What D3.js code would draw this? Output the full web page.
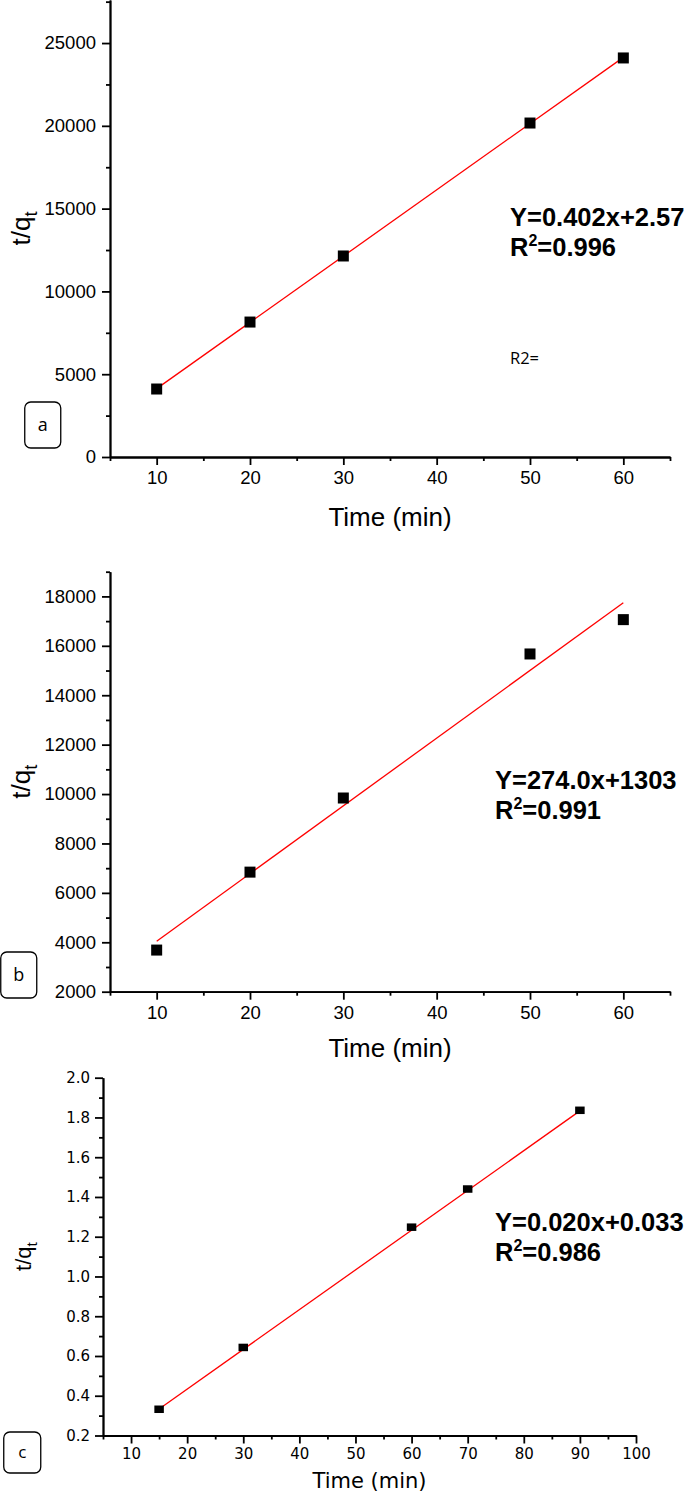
<!DOCTYPE html>
<html>
<head>
<meta charset="utf-8">
<script src="https://cdn.jsdelivr.net/npm/d3@7"></script>
<style>
    body { margin: 0; background: #fff; }
    svg { display: block; }
    .axis path, .axis line { stroke: #000; stroke-width: 1.8; }
</style>
</head>
<body>
<div id="chart"></div>
<script>
// Panel a
const timeA = [10, 20, 30, 50, 60];
const valuesA = [4106, 8150, 12140, 20170, 24100];
const fitA = [[10, 4130], [60, 24135]];
const xTicksA = [10, 20, 30, 40, 50, 60];
const yTicksA = [0, 5000, 10000, 15000, 20000, 25000];

// Panel b
const timeB = [10, 20, 30, 50, 60];
const valuesB = [3685, 6840, 9840, 15670, 17060];
const fitB = [[10, 4043], [60, 17743]];
const xTicksB = [10, 20, 30, 40, 50, 60];
const yTicksB = [2000, 4000, 6000, 8000, 10000, 12000, 14000, 16000, 18000];

// Panel c
const timeC = [15, 30, 60, 70, 90];
const valuesC = [0.332, 0.643, 1.248, 1.44, 1.836];
const fitC = [[15, 0.333], [90, 1.833]];
const xTicksC = [10, 20, 30, 40, 50, 60, 70, 80, 90, 100];
const yTicksC = [0.2, 0.4, 0.6, 0.8, 1.0, 1.2, 1.4, 1.6, 1.8, 2.0];

const panels = [
    {
        letter: 'a', time: timeA, values: valuesA, fit: fitA,
        xTicks: xTicksA, yTicks: yTicksA,
        xMinor: d3.range(5, 66, 10), yMinor: d3.range(2500, 27600, 5000),
        xDomain: [5, 65], yDomain: [0, 27600],
        xRange: [110, 670], yRange: [457, 0],
        yFormat: d => d, font: 'Liberation Sans, Arial, sans-serif',
        tickSize: 18.5, titleSize: 26, yTitleSize: 26,
        tickPad: 6, xLabelY: 526, yLabelX: 30,
        marker: [11, 11],
        eq: 'Y=0.402x+2.57', r2: '0.996', eqX: 510, eqY: 226,
        box: [24, 402, 36, 46], boxLetterSize: 18
    },
    {
        letter: 'b', time: timeB, values: valuesB, fit: fitB,
        xTicks: xTicksB, yTicks: yTicksB,
        xMinor: d3.range(5, 66, 10), yMinor: d3.range(3000, 19001, 2000),
        xDomain: [5, 65], yDomain: [2000, 19000],
        xRange: [110, 670], yRange: [991.7, 571.7],
        yFormat: d => d, font: 'Liberation Sans, Arial, sans-serif',
        tickSize: 18.5, titleSize: 26, yTitleSize: 26,
        tickPad: 6, xLabelY: 1057, yLabelX: 30,
        marker: [11, 11],
        eq: 'Y=274.0x+1303', r2: '0.991', eqX: 495, eqY: 789,
        box: [0, 952, 36, 46], boxLetterSize: 18
    },
    {
        letter: 'c', time: timeC, values: valuesC, fit: fitC,
        xTicks: xTicksC, yTicks: yTicksC,
        xMinor: d3.range(5, 100, 10), yMinor: d3.range(0.3, 2.0, 0.2),
        xDomain: [5, 100], yDomain: [0.2, 2.0],
        xRange: [103, 636], yRange: [1435.5, 1077.7],
        yFormat: d3.format('.1f'), font: 'DejaVu Sans, sans-serif',
        tickSize: 15, titleSize: 21, yTitleSize: 22,
        tickPad: 5, xLabelY: 1488, yLabelX: 31,
        marker: [9.5, 7.5],
        eq: 'Y=0.020x+0.033', r2: '0.986', eqX: 495, eqY: 1231,
        box: [3, 1432, 37, 41], boxLetterSize: 17
    }
];

const svg = d3.select('#chart')
    .append('svg')
    .attr('width', 685)
    .attr('height', 1494);

const drawPanel = (p) => {
    const g = svg.append('g');

    const x = d3.scaleLinear().domain(p.xDomain).range(p.xRange);
    const y = d3.scaleLinear().domain(p.yDomain).range(p.yRange);

    // minor ticks
    g.append('g')
        .attr('class', 'axis')
        .attr('transform', `translate(0,${p.yRange[0]})`)
        .call(d3.axisBottom(x).tickValues(p.xMinor).tickSize(4).tickSizeOuter(0).tickFormat(''));
    g.append('g')
        .attr('class', 'axis')
        .attr('transform', `translate(${p.xRange[0]},0)`)
        .call(d3.axisLeft(y).tickValues(p.yMinor).tickSize(4).tickSizeOuter(0).tickFormat(''));

    // major ticks
    const xAxis = g.append('g')
        .attr('class', 'axis')
        .attr('transform', `translate(0,${p.yRange[0]})`)
        .call(d3.axisBottom(x).tickValues(p.xTicks).tickSize(8).tickSizeOuter(0).tickPadding(p.tickPad));
    const yAxis = g.append('g')
        .attr('class', 'axis')
        .attr('transform', `translate(${p.xRange[0]},0)`)
        .call(d3.axisLeft(y).tickValues(p.yTicks).tickSize(8).tickSizeOuter(0)
            .tickPadding(p.tickPad).tickFormat(p.yFormat));

    [xAxis, yAxis].forEach(a => a.selectAll('text')
        .attr('font-family', p.font)
        .attr('font-size', p.tickSize)
        .attr('fill', '#000'));

    // fit line
    g.append('path')
        .datum(p.fit)
        .attr('fill', 'none')
        .attr('stroke', '#ff0000')
        .attr('stroke-width', 1.3)
        .attr('d', d3.line().x(d => x(d[0])).y(d => y(d[1])));

    // points
    g.selectAll('.pt')
        .data(p.time.map((t, i) => ({ t, v: p.values[i] })))
        .enter().append('rect')
        .attr('class', 'pt')
        .attr('x', d => x(d.t) - p.marker[0] / 2)
        .attr('y', d => y(d.v) - p.marker[1] / 2)
        .attr('width', p.marker[0])
        .attr('height', p.marker[1])
        .attr('fill', '#000');

    // axis titles
    g.append('text')
        .attr('x', (p.xRange[0] + p.xRange[1]) / 2)
        .attr('y', p.xLabelY)
        .attr('text-anchor', 'middle')
        .attr('font-family', p.font)
        .attr('font-size', p.titleSize)
        .text('Time (min)');

    const yt = g.append('text')
        .attr('transform', `translate(${p.yLabelX},${(p.yRange[0] + p.yRange[1]) / 2}) rotate(-90)`)
        .attr('text-anchor', 'middle')
        .attr('font-family', 'Liberation Sans, Arial, sans-serif')
        .attr('font-size', p.yTitleSize);
    yt.append('tspan').text('t/q');
    yt.append('tspan').attr('dy', p.yTitleSize * 0.25).attr('font-size', p.yTitleSize * 0.7).text('t');

    // equation
    const eq = g.append('g')
        .attr('font-family', 'Liberation Sans, Arial, sans-serif')
        .attr('font-weight', 'bold')
        .attr('font-size', 25.5);
    eq.append('text').attr('x', p.eqX).attr('y', p.eqY).text(p.eq);
    const r = eq.append('text').attr('x', p.eqX).attr('y', p.eqY + 30);
    r.append('tspan').text('R');
    r.append('tspan').attr('dy', -10).attr('font-size', 16).text('2');
    r.append('tspan').attr('dy', 10).text('=' + p.r2);

    // panel letter box
    g.append('rect')
        .attr('x', p.box[0] + 0.75)
        .attr('y', p.box[1])
        .attr('width', p.box[2])
        .attr('height', p.box[3])
        .attr('rx', 6)
        .attr('fill', '#fff')
        .attr('stroke', '#000')
        .attr('stroke-width', 1.3);
    g.append('text')
        .attr('x', p.box[0] + p.box[2] / 2 + 0.75)
        .attr('y', p.box[1] + p.box[3] / 2)
        .attr('dy', '0.35em')
        .attr('text-anchor', 'middle')
        .attr('font-family', 'Open Sans, sans-serif')
        .attr('font-size', p.boxLetterSize)
        .text(p.letter);

    return g;
};

const gA = drawPanel(panels[0]);
drawPanel(panels[1]);
drawPanel(panels[2]);

// stray note in panel a
gA.append('text')
    .attr('x', 510)
    .attr('y', 364)
    .attr('font-family', 'Open Sans, sans-serif')
    .attr('font-size', 16.5)
    .text('R2=');
</script>
</body>
</html>
